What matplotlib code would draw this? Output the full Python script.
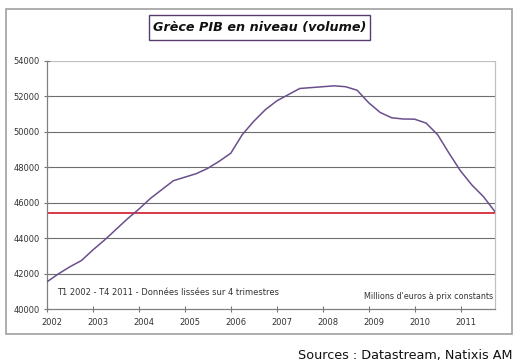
import numpy as np
import matplotlib
matplotlib.use('Agg')
import matplotlib.pyplot as plt
import matplotlib.transforms as mtransforms
from matplotlib.patches import Rectangle

# quarterly GDP level, T1 2002 - T4 2011 (millions of euros, smoothed)
gdp = [41550, 42000, 42400, 42750, 43350, 43900, 44500, 45100,
       45650, 46250, 46750, 47250, 47450, 47650, 47950, 48350,
       48800, 49850, 50600, 51250, 51750, 52100, 52450, 52500,
       52550, 52600, 52550, 52350, 51650, 51100, 50800, 50730,
       50720, 50500, 49850, 48800, 47800, 47000, 46350, 45500]
years = list(range(2002, 2012))
y_ticks = list(range(40000, 54001, 2000))
ref_level = 45450

t = 2002 + np.arange(len(gdp)) / 4.0

W, H = 520.0, 364.0
fig = plt.figure(figsize=(5.2, 3.64), dpi=100)
fig.patch.set_facecolor('white')

# outer grey frame
fig.patches.append(Rectangle((6/W, 1-334/H), 506/W, 325/H, transform=fig.transFigure,
                             fill=False, edgecolor='#a0a0a0', linewidth=1.2))

ax = fig.add_axes([47/W, 1-309.3/H, 448/W, 248.3/H])

for v in y_ticks[1:-1]:
    ax.axhline(v, color='#6e6e6e', linewidth=0.8, zorder=1)
ax.axhline(y_ticks[-1], color='#c0c0c0', linewidth=0.9, zorder=1)

ax.axhline(ref_level, color='#d8283c', linewidth=1.3, zorder=2)
ax.plot(t, gdp, color='#6a4f8c', linewidth=1.1, zorder=3)

ax.set_xlim(2002, t[-1])
ax.set_ylim(40000, 54000)

ax.set_yticks(y_ticks)
ax.set_yticklabels([str(v) for v in y_ticks])
ax.set_xticks(years)
ax.set_xticklabels([str(y) for y in years])
ax.tick_params(axis='both', direction='inout', length=4, width=0.8, color='#777777',
               labelsize=6, labelcolor='#333333')
ax.tick_params(axis='x', pad=4)
ax.tick_params(axis='y', pad=3)

# shift year labels slightly right, like the original
offset = mtransforms.ScaledTranslation(5/100, 0, fig.dpi_scale_trans)
for lab in ax.get_xticklabels():
    lab.set_transform(lab.get_transform() + offset)

for side in ['left', 'bottom']:
    ax.spines[side].set_color('#808080')
    ax.spines[side].set_linewidth(0.9)
ax.spines['top'].set_visible(False)
ax.spines['right'].set_color('#c0c0c0')
ax.spines['right'].set_linewidth(0.9)

ax.text(0.022, 0.066, 'T1 2002 - T4 2011 - Données lissées sur 4 trimestres',
        transform=ax.transAxes, fontsize=6, color='#333333', ha='left', va='center')
ax.text(0.995, 0.05, "Millions d'euros à prix constants",
        transform=ax.transAxes, fontsize=5.8, color='#333333', ha='right', va='center')

# title in a purple box
fig.patches.append(Rectangle((149/W, 1-40/H), 221/W, 25/H, transform=fig.transFigure,
                             facecolor='white', edgecolor='#5a3c6e', linewidth=1.0))
fig.text(259.5/W, 1-27.5/H, 'Grèce PIB en niveau (volume)', fontsize=9.2,
         fontweight='bold', fontstyle='italic', ha='center', va='center', color='#111111')

fig.text(512/W, 1-355/H, 'Sources : Datastream, Natixis AM', fontsize=9.2,
         ha='right', va='center', color='#111111')

fig.savefig('out.png', dpi=100)
